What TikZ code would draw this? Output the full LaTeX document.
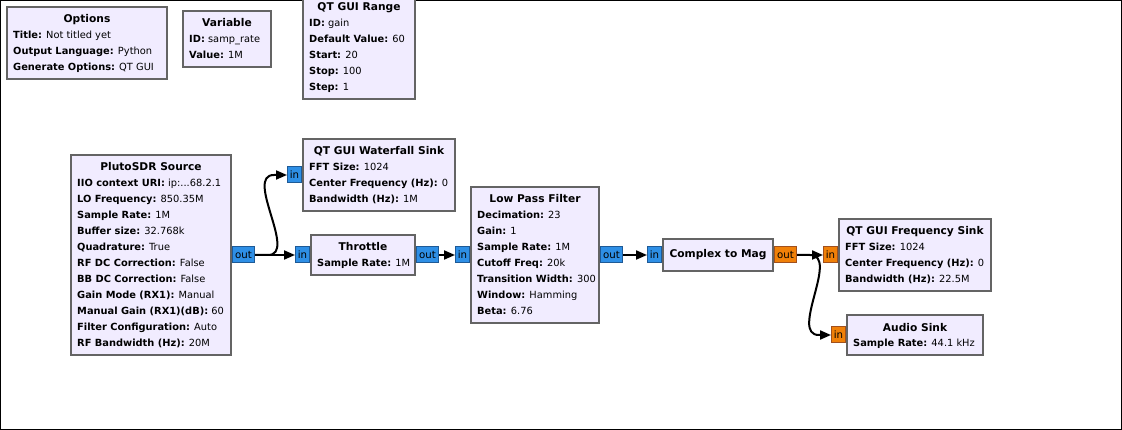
\documentclass[tikz,border=0pt]{standalone}
\usepackage{fontspec}
\setmainfont{DejaVu Sans}
\usetikzlibrary{arrows.meta,calc}
\definecolor{blkfill}{HTML}{F1ECFF}
\definecolor{blkdraw}{HTML}{646464}
\definecolor{cfill}{HTML}{2E8FE6}
\definecolor{cdraw}{HTML}{1E5A96}
\definecolor{ffill}{HTML}{F08008}
\definecolor{fdraw}{HTML}{A0501E}
\newcommand\kv[2]{\textbf{#1:} #2}
\newcommand\plist[1]{\parbox[t]{300pt}{\raggedright #1}}
\newcommand\grcblk[7]{%
  \node[blk, minimum width=#4pt, minimum height=#5pt] (#1) at (#2,#3) {};
  \node[blktitle] (#1-t) at ($(#1.north)+(0,17)$) {#6};
  \node[blkparams] (#1-p) at ($(#1.north west)+(7,33)$) {\plist{#7}};
}
\tikzset{
  blk/.style={draw=blkdraw, fill=blkfill, line width=2pt, rectangle, inner sep=0pt, anchor=north west},
  blktitle/.style={inner sep=0pt, anchor=base, font=\fontsize{10.67}{16}\selectfont\bfseries},
  blkparams/.style={inner sep=0pt, anchor=base west, font=\fontsize{9.85}{16}\selectfont},
  cport/.style={draw=cdraw, fill=cfill, line width=1pt, inner sep=0pt, minimum height=16pt, font=\fontsize{10.2}{12}\selectfont},
  fport/.style={cport, draw=fdraw, fill=ffill},
  inport/.style={minimum width=14pt, anchor=east},
  outport/.style={minimum width=22pt, anchor=west},
  conn/.style={line width=2pt, -{Triangle[length=11pt,width=9pt]}},
  frame/.style={line width=1.2pt, draw=black},
}
\begin{document}
\begin{tikzpicture}[x=1pt, y=-1pt]
\useasboundingbox (0,0) rectangle (1122,430);
\draw[frame] (0.6,0.6) rectangle (1121.4,429.2);

% top row
\grcblk{opt}{6}{6}{160}{72}{Options}{\kv{Title}{Not titled yet}\\\kv{Output Language}{Python}\\\kv{Generate Options}{QT GUI}}
\grcblk{var}{182}{10}{88}{56}{Variable}{\kv{ID}{samp\_rate}\\\kv{Value}{1M}}
\grcblk{rng}{302}{-6}{112}{104}{QT GUI Range}{\kv{ID}{gain}\\\kv{Default Value}{60}\\\kv{Start}{20}\\\kv{Stop}{100}\\\kv{Step}{1}}

% flow blocks
\grcblk{plu}{70}{154}{160}{200}{PlutoSDR Source}{\kv{IIO context URI}{ip:...68.2.1}\\\kv{LO Frequency}{850.35M}\\\kv{Sample Rate}{1M}\\\kv{Buffer size}{32.768k}\\\kv{Quadrature}{True}\\\kv{RF DC Correction}{False}\\\kv{BB DC Correction}{False}\\\kv{Gain Mode (RX1)}{Manual}\\\kv{Manual Gain (RX1)(dB)}{60}\\\kv{Filter Configuration}{Auto}\\\kv{RF Bandwidth (Hz)}{20M}}
\grcblk{wf}{302}{138}{152}{72}{QT GUI Waterfall Sink}{\kv{FFT Size}{1024}\\\kv{Center Frequency (Hz)}{0}\\\kv{Bandwidth (Hz)}{1M}}
\grcblk{thr}{310}{234}{104}{40}{Throttle}{\kv{Sample Rate}{1M}}
\grcblk{lpf}{470}{186}{128}{136}{Low Pass Filter}{\kv{Decimation}{23}\\\kv{Gain}{1}\\\kv{Sample Rate}{1M}\\\kv{Cutoff Freq}{20k}\\\kv{Transition Width}{300}\\\kv{Window}{Hamming}\\\kv{Beta}{6.76}}
\node[blk, minimum width=110pt, minimum height=32pt] (cm) at (662,238) {};
\node[blktitle] (cm-t) at ($(cm.north)+(0,20)$) {Complex to Mag};
\grcblk{fs}{838}{218}{152}{72}{QT GUI Frequency Sink}{\kv{FFT Size}{1024}\\\kv{Center Frequency (Hz)}{0}\\\kv{Bandwidth (Hz)}{22.5M}}
\grcblk{au}{846}{314}{136}{40}{Audio Sink}{\kv{Sample Rate}{44.1 kHz}}

% ports
\node[cport, outport] (plu-out) at (plu.east) {out};
\node[cport, inport] (wf-in) at (wf.west) {in};
\node[cport, inport] (thr-in) at (thr.west) {in};
\node[cport, outport] (thr-out) at (thr.east) {out};
\node[cport, inport] (lpf-in) at (lpf.west) {in};
\node[cport, outport] (lpf-out) at (lpf.east) {out};
\node[cport, inport] (cm-in) at (cm.west) {in};
\node[fport, outport] (cm-out) at (cm.east) {out};
\node[fport, inport] (fs-in) at (fs.west) {in};
\node[fport, inport] (au-in) at (au.west) {in};

% connections
\draw[conn] (plu-out.east) -- (thr-in.west);
\draw[conn] (plu-out.east) -- ++(13,0) .. controls +(30,0) and +(-30,0) .. ($(wf-in.west)+(-13,0)$) -- (wf-in.west);
\draw[conn] (thr-out.east) -- (lpf-in.west);
\draw[conn] (lpf-out.east) -- (cm-in.west);
\draw[conn] (cm-out.east) -- (fs-in.west);
\draw[conn] (cm-out.east) -- ++(13,0) .. controls +(30,0) and +(-30,0) .. ($(au-in.west)+(-12,0)$) -- (au-in.west);
\end{tikzpicture}
\end{document}
